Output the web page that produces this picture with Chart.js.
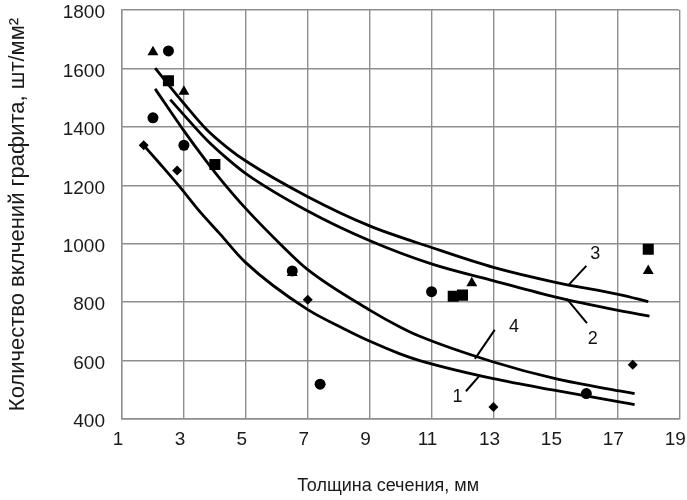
<!DOCTYPE html>
<html>
<head>
<meta charset="utf-8">
<script src="https://cdn.jsdelivr.net/npm/chart.js@4.4.0/dist/chart.umd.min.js"></script>
<style>
  html, body { margin: 0; padding: 0; background: #ffffff; }
  #wrap { width: 687px; height: 500px; position: relative; }
</style>
</head>
<body>
<div id="wrap"><canvas id="c" width="687" height="500"></canvas></div>
<script>
// ---- Data ----
const xTickValues = [1, 3, 5, 7, 9, 11, 13, 15, 17, 19];
const yTickValues = [400, 600, 800, 1000, 1200, 1400, 1600, 1800];

// measured points
const circleX   = [2.0, 2.5, 3.0, 6.5, 7.4, 11.0, 16.0];
const circleY   = [1431, 1660, 1337, 907, 519, 836, 487];
const squareX   = [2.5, 4.0, 11.7, 12.0, 18.0];
const squareY   = [1558, 1271, 820, 824, 981];
const triangleX = [2.0, 3.0, 6.5, 12.3, 18.0];
const triangleY = [1656, 1521, 900, 865, 907];
const diamondX  = [1.7, 2.78, 7.0, 13.0, 17.5];
const diamondY  = [1337, 1251, 808, 441, 586];

// fitted curves 1..4
const curve1X = [1.7, 2.24, 2.88, 3.53, 4.17, 4.98, 6.99, 8.15, 9.03, 9.98, 10.62, 13.0, 15.0, 17.07, 17.56];
const curve1Y = [1337, 1272, 1193, 1108, 1033, 937, 775, 710, 665, 623, 600, 538, 498, 459, 449];
const curve2X = [2.56, 2.99, 3.74, 4.39, 5.0, 7.0, 9.01, 11.02, 13.01, 15.01, 17.07, 18.04];
const curve2Y = [1493, 1442, 1355, 1292, 1240, 1112, 1010, 930, 873, 817, 771, 752];
const curve3X = [2.07, 3.0, 3.74, 4.39, 5.0, 7.0, 9.0, 11.0, 13.0, 15.0, 17.07, 18.0];
const curve3Y = [1601, 1480, 1390, 1330, 1283, 1161, 1061, 987, 919, 868, 826, 802];
const curve4X = [2.07, 2.99, 3.74, 4.17, 5.0, 6.15, 6.99, 9.03, 9.98, 10.62, 13.0, 15.0, 17.07, 17.56];
const curve4Y = [1530, 1388, 1280, 1222, 1120, 995, 912, 771, 715, 683, 595, 538, 496, 487];

// curve labels
const curveLabels = ['1', '2', '3', '4'];

const xTitle = 'Толщина сечения, мм';
const yTitle = 'Количество вклчений графита, шт/мм²';

// ---- helpers ----
function pts(xs, ys) { return xs.map((x, i) => ({ x: x, y: ys[i] })); }

// label annotations (in data units)
const labelAnno = [
  { t: curveLabels[0], tx: 11.84, ty: 476, x1: 12.11, y1: 495, x2: 12.53, y2: 546 },
  { t: curveLabels[1], tx: 16.21, ty: 674, x1: 15.37, y1: 811, x2: 16.02, y2: 728 },
  { t: curveLabels[2], tx: 16.29, ty: 964, x1: 15.43, y1: 859, x2: 16.0, y2: 924 },
  { t: curveLabels[3], tx: 13.66, ty: 714, x1: 12.4, y1: 606, x2: 13.04, y2: 705 }
];

const annoPlugin = {
  id: 'anno',
  afterDatasetsDraw(chart) {
    const ctx = chart.ctx, xs = chart.scales.x, ys = chart.scales.y;
    ctx.save();
    ctx.strokeStyle = '#000';
    ctx.lineWidth = 2;
    ctx.fillStyle = '#111';
    ctx.font = '18px "Liberation Sans", Arial, sans-serif';
    ctx.textAlign = 'center';
    ctx.textBaseline = 'middle';
    labelAnno.forEach(a => {
      ctx.beginPath();
      ctx.moveTo(xs.getPixelForValue(a.x1), ys.getPixelForValue(a.y1));
      ctx.lineTo(xs.getPixelForValue(a.x2), ys.getPixelForValue(a.y2));
      ctx.stroke();
      ctx.fillText(a.t, xs.getPixelForValue(a.tx), ys.getPixelForValue(a.ty));
    });
    ctx.restore();
  }
};

const lineStyle = {
  showLine: true, pointRadius: 0, borderColor: '#000', borderWidth: 2.8,
  cubicInterpolationMode: 'monotone', fill: false
};
const markerStyle = { showLine: false, backgroundColor: '#000', borderColor: '#000', borderWidth: 0 };

const fontFamily = '"Liberation Sans", Arial, sans-serif';
const gridColor = '#8e8e8e';

new Chart(document.getElementById('c'), {
  type: 'scatter',
  data: {
    datasets: [
      Object.assign({ label: 'curve 1', data: pts(curve1X, curve1Y) }, lineStyle),
      Object.assign({ label: 'curve 2', data: pts(curve2X, curve2Y) }, lineStyle),
      Object.assign({ label: 'curve 3', data: pts(curve3X, curve3Y) }, lineStyle),
      Object.assign({ label: 'curve 4', data: pts(curve4X, curve4Y) }, lineStyle),
      Object.assign({ label: 'triangle', data: pts(triangleX, triangleY), pointStyle: 'triangle', pointRadius: 6.3 }, markerStyle),
      Object.assign({ label: 'square', data: pts(squareX, squareY), pointStyle: 'rect', pointRadius: 7.8 }, markerStyle),
      Object.assign({ label: 'diamond', data: pts(diamondX, diamondY), pointStyle: 'rectRot', pointRadius: 5 }, markerStyle),
      Object.assign({ label: 'circle', data: pts(circleX, circleY), pointStyle: 'circle', pointRadius: 5.5 }, markerStyle)
    ]
  },
  options: {
    responsive: false,
    animation: false,
    devicePixelRatio: 1,
    layout: { padding: { top: 10, right: 0, left: 0, bottom: 0 } },
    plugins: { legend: { display: false }, tooltip: { enabled: false } },
    scales: {
      x: {
        type: 'linear', min: 1, max: 19,
        afterBuildTicks: (s) => { s.ticks = xTickValues.map(v => ({ value: v })); },
        afterFit: (s) => { s.height = 81; s.paddingLeft = 0; s.paddingRight = 7; },
        grid: { color: gridColor, lineWidth: 1.4, drawTicks: false },
        border: { color: gridColor, width: 1.4 },
        ticks: { padding: 9, labelOffset: -4, color: '#1a1a1a', font: { family: fontFamily, size: 19 }, maxRotation: 0,
                 callback: (v) => String(v) },
        title: { display: true, text: xTitle + '\u00A0\u00A0\u00A0\u00A0\u00A0', color: '#1a1a1a',
                 font: { family: fontFamily, size: 18 }, padding: { top: 0, bottom: 3 } }
      },
      y: {
        type: 'linear', min: 400, max: 1800,
        afterBuildTicks: (s) => { s.ticks = yTickValues.map(v => ({ value: v })); },
        afterFit: (s) => { s.width = 122; s.paddingTop = 0; s.paddingBottom = 0; },
        grid: { color: gridColor, lineWidth: 1.4, drawTicks: false },
        border: { color: gridColor, width: 1.4 },
        ticks: { padding: 17, labelOffset: 3, color: '#1a1a1a', font: { family: fontFamily, size: 19 },
                 callback: (v) => String(v) },
        title: { display: true, text: yTitle, color: '#1a1a1a', font: { family: fontFamily, size: 22 }, padding: { top: 5, bottom: 0 } }
      }
    }
  },
  plugins: [annoPlugin]
});
</script>
</body>
</html>
